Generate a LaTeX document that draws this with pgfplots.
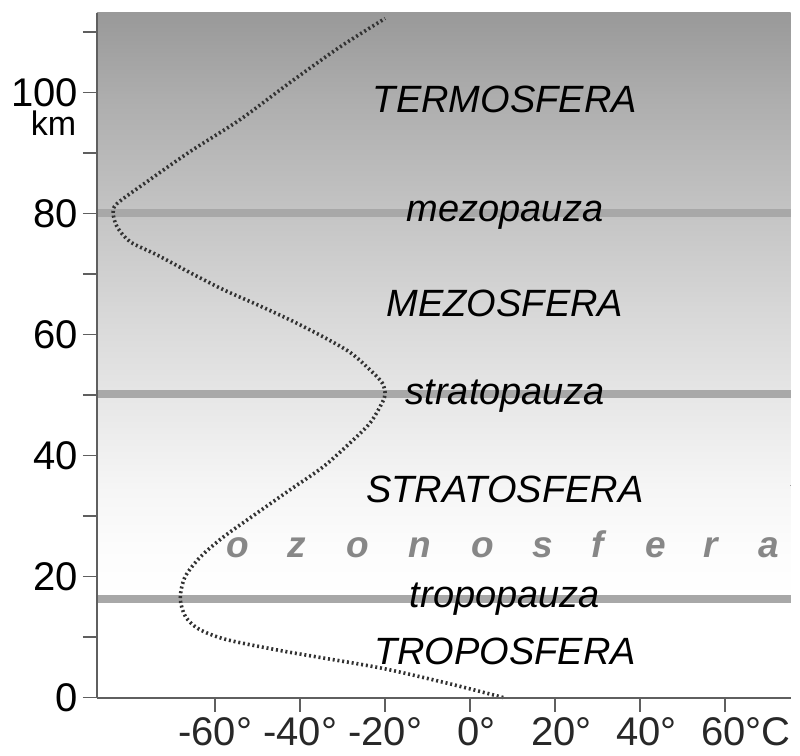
\documentclass[border=0pt]{standalone}
\usepackage{pgfplots}
\pgfplotsset{compat=1.18}
\usepackage{fontspec}
\setmainfont{Liberation Sans}
\definecolor{axisgray}{RGB}{95,95,95}
\definecolor{labelgray}{RGB}{40,40,40}
\definecolor{linegray}{RGB}{168,168,168}
\definecolor{curvegray}{RGB}{50,50,50}
\definecolor{ozone}{RGB}{135,135,135}
\definecolor{gA}{RGB}{255,255,255}
\definecolor{gB}{RGB}{252,252,252}
\definecolor{gC}{RGB}{245,245,245}
\definecolor{gD}{RGB}{230,230,230}
\definecolor{gE}{RGB}{214,214,214}
\definecolor{gF}{RGB}{196,196,196}
\definecolor{gG}{RGB}{172,172,172}
\definecolor{gH}{RGB}{153,153,153}
\begin{document}
\begin{tikzpicture}
\path[use as bounding box] (-97pt,-57.5pt) rectangle (703pt,697.5pt);
\begin{axis}[
  at={(0pt,0pt)}, anchor=south west,
  scale only axis, width=693.5pt, height=684.5pt,
  xmin=-87.8, xmax=75.4, ymin=0, ymax=113.1,
  axis lines=left, axis line style={-, draw=axisgray, line width=2pt},
  axis on top, clip=false,
  tick align=outside, major tick length=14pt,
  tick style={draw=axisgray, line width=1.5pt},
  xtick={-60,-40,-20,0,20,40,60},
  xticklabels={-60°,-40°,-20°,\phantom{-}0°,\phantom{-}20°,\phantom{-}40°,\phantom{-}60°\rlap{C}},
  ytick={0,10,20,30,40,50,60,70,80,90,100,110},
  yticklabels={0,,20,,40,,60,,80,,100,},
  x tick label style={font=\fontsize{40}{48}\selectfont, text=labelgray, inner sep=0pt, anchor=north, yshift=-6pt},
  y tick label style={font=\fontsize{40}{48}\selectfont, text=black, inner sep=0pt, anchor=east, xshift=-5pt},
]
% background gradient
\fill[bottom color=gA, top color=gB] (axis cs:-87.8,16.3) rectangle (axis cs:75.4,25.2);
\fill[bottom color=gB, top color=gC] (axis cs:-87.8,25) rectangle (axis cs:75.4,35.2);
\fill[bottom color=gC, top color=gD] (axis cs:-87.8,35) rectangle (axis cs:75.4,50.2);
\fill[bottom color=gD, top color=gE] (axis cs:-87.8,50) rectangle (axis cs:75.4,65.2);
\fill[bottom color=gE, top color=gF] (axis cs:-87.8,65) rectangle (axis cs:75.4,80.2);
\fill[bottom color=gF, top color=gG] (axis cs:-87.8,80) rectangle (axis cs:75.4,100.2);
\fill[bottom color=gG, top color=gH] (axis cs:-87.8,100) rectangle (axis cs:75.4,113.1);
% pause lines
\addplot[linegray, line width=8pt, forget plot] coordinates {(-87.8,16.3) (75.4,16.3)};
\addplot[linegray, line width=8pt, forget plot] coordinates {(-87.8,50.1) (75.4,50.1)};
\addplot[linegray, line width=8pt, forget plot] coordinates {(-87.8,80.1) (75.4,80.1)};
% temperature profile
\addplot[curvegray, line width=3.6pt, dash pattern=on 2pt off 2.8pt, smooth, tension=0.5] coordinates {
(7.8,0) (-5,2.3) (-20.5,4.8) (-36,6.7) (-45,7.8) (-57.5,9.6) (-63.8,11.3) (-67.0,13.4)
(-68.2,16.4) (-67.1,19.9) (-63.5,23.2) (-58.1,26.5) (-50.1,30.5) (-42.4,34.3) (-34.6,38.1)
(-28.2,42.1) (-23.5,45.4) (-20.7,48.7) (-20.0,50.2) (-20.7,52.0) (-23.5,54.1) (-28.2,57.0)
(-34.6,59.6) (-42.4,62.4) (-50.1,64.9) (-58.1,67.4) (-65.9,70.2) (-73.6,73.1) (-80.0,75.3)
(-83.1,77.8) (-84.0,80.1) (-83.1,81.6) (-76.5,85.0) (-65.9,90.2) (-54.1,95.5) (-42.4,101.6)
(-30.6,107.5) (-20.0,112.2)};
% labels
\tikzset{lab/.style={anchor=base, inner sep=0pt, font=\fontsize{38}{46}\selectfont\itshape}}
\node[lab] at (axis cs:8.2,96.6) {TERMOSFERA};
\node[lab] at (axis cs:8.2,78.6) {mezopauza};
\node[lab] at (axis cs:8.2,62.9) {MEZOSFERA};
\node[lab] at (axis cs:8.2,48.35) {stratopauza};
\node[lab] at (axis cs:8.2,32.15) {STRATOSFERA};
\node[lab] at (axis cs:8.2,14.8) {tropopauza};
\node[lab] at (axis cs:8.2,5.4) {TROPOSFERA};
\tikzset{oz/.style={anchor=base, inner sep=0pt, text=ozone, font=\fontsize{37}{44}\selectfont\itshape\bfseries}}
\node[oz] at (axis cs:-54.6,23.2) {o};
\node[oz] at (axis cs:-40.7,23.2) {z};
\node[oz] at (axis cs:-26.4,23.2) {o};
\node[oz] at (axis cs:-11.8,23.2) {n};
\node[oz] at (axis cs:3.1,23.2) {o};
\node[oz] at (axis cs:17.2,23.2) {s};
\node[oz] at (axis cs:29.9,23.2) {f};
\node[oz] at (axis cs:43.8,23.2) {e};
\node[oz] at (axis cs:56.7,23.2) {r};
\node[oz] at (axis cs:70.4,23.2) {a};
\node[anchor=base, inner sep=0pt, font=\fontsize{34}{40}\selectfont] at (axis cs:-98.0,92.9) {km};
\end{axis}
\end{tikzpicture}
\end{document}
